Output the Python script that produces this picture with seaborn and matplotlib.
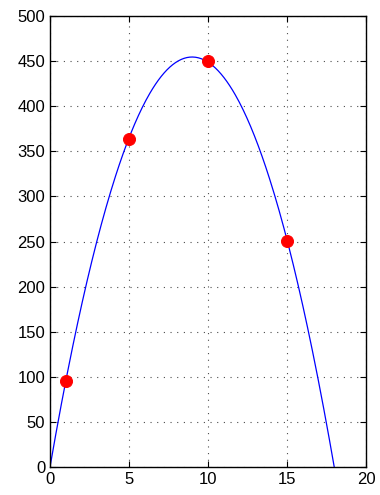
import numpy as np
import pandas as pd
import matplotlib
matplotlib.use("Agg")
import matplotlib.pyplot as plt
import seaborn as sns

# measured points
t_obs = [1, 5, 10, 15]
y_obs = [95, 364, 450, 251]

x_ticks = [0, 5, 10, 15, 20]
y_ticks = [0, 50, 100, 150, 200, 250, 300, 350, 400, 450, 500]

sns.set_style("ticks")
plt.rcParams['font.family'] = ['Liberation Sans', 'DejaVu Sans']

# least squares fit y = a*t + b*t^2 (through origin)
t_arr = np.array(t_obs, dtype=float)
A = np.column_stack([t_arr, t_arr ** 2])
coef, *_ = np.linalg.lstsq(A, np.array(y_obs, dtype=float), rcond=None)
t_end = -coef[0] / coef[1]
t_fit = np.linspace(0, t_end, 300)
fit = pd.DataFrame({'t': t_fit, 'y': coef[0] * t_fit + coef[1] * t_fit ** 2})
pts = pd.DataFrame({'t': t_obs, 'y': y_obs})

fig = plt.figure(figsize=(3.8, 4.95), dpi=100)
ax = fig.add_axes([0.1316, 0.0566, 0.832, 0.911])

sns.lineplot(data=fit, x='t', y='y', color='blue', linewidth=0.9, ax=ax)
sns.scatterplot(data=pts, x='t', y='y', color='red', s=75, edgecolor='red',
                zorder=3, ax=ax)

ax.set_xlim(0, 20)
ax.set_ylim(0, 500)
ax.set_xticks(x_ticks)
ax.set_yticks(y_ticks)
ax.set_xlabel('')
ax.set_ylabel('')
ax.grid(True, color='black', linestyle=(0, (1, 5)), linewidth=0.8, alpha=0.7)
ax.tick_params(direction='in', length=4, labelsize=12, top=True, right=True,
               color='black', labelcolor='black')
for s in ax.spines.values():
    s.set_color('black')
    s.set_linewidth(1.0)

fig.savefig('out.png', dpi=100)
